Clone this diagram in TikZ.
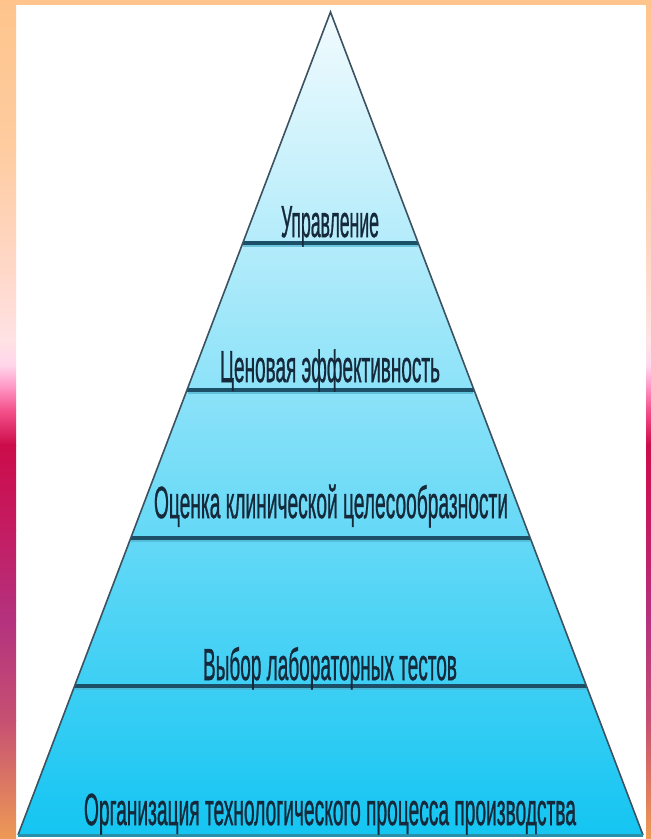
\documentclass[tikz,border=0pt]{standalone}
\usepackage{fontspec}
\setmainfont{Liberation Sans}
\newfontfamily\lblfont{Liberation Sans}[FakeBold=1.2]
\usepackage{graphicx}
\usetikzlibrary{calc}
\definecolor{s0}{HTML}{FEC48C}
\definecolor{s1}{HTML}{FECCA0}
\definecolor{s2}{HTML}{FFD9CC}
\definecolor{s3}{HTML}{FFE2E4}
\definecolor{s4}{HTML}{FFD6EA}
\definecolor{s5}{HTML}{FF9CC8}
\definecolor{s6}{HTML}{F4528C}
\definecolor{s7}{HTML}{CC0C4A}
\definecolor{s8}{HTML}{C41C62}
\definecolor{s9}{HTML}{B4327E}
\definecolor{s10}{HTML}{C65072}
\definecolor{s11}{HTML}{EE9A56}
\definecolor{ptop}{HTML}{F2FBFE}
\definecolor{pmid}{HTML}{86DEF7}
\definecolor{pbot}{HTML}{14C5F2}
\definecolor{txt}{HTML}{15293A}
\definecolor{divc}{HTML}{1B5068}
\definecolor{divs}{HTML}{4FB3D0}
\definecolor{edgec}{HTML}{3D5260}
\definecolor{basec}{HTML}{2A8FA8}
\tikzset{
  lbl/.style={anchor=base, inner sep=0pt, text=txt, font=\lblfont\fontsize{45}{50}\selectfont},
  divider/.style={draw=divc, line width=3.2pt},
  dividershadow/.style={draw=divs, line width=2pt, opacity=0.7},
  outline/.style={draw=edgec, line width=1.6pt, line join=miter},
}
\begin{document}
\begin{tikzpicture}[x=1pt,y=-1pt]
\useasboundingbox (0,0) rectangle (651,839);
\fill[white] (0,0) rectangle (651,839);
% frame strips (left and right share the vertical gradient)
\foreach \xa/\xb in {0/16, 646/651}{
  \shade[top color=s0, bottom color=s1] (\xa,0) rectangle (\xb,150);
  \shade[top color=s1, bottom color=s2] (\xa,150) rectangle (\xb,280);
  \shade[top color=s2, bottom color=s3] (\xa,280) rectangle (\xb,340);
  \shade[top color=s3, bottom color=s4] (\xa,340) rectangle (\xb,365);
  \shade[top color=s4, bottom color=s5] (\xa,365) rectangle (\xb,385);
  \shade[top color=s5, bottom color=s6] (\xa,385) rectangle (\xb,410);
  \shade[top color=s6, bottom color=s7] (\xa,410) rectangle (\xb,445);
  \shade[top color=s7, bottom color=s8] (\xa,445) rectangle (\xb,530);
  \shade[top color=s8, bottom color=s9] (\xa,530) rectangle (\xb,620);
  \shade[top color=s9, bottom color=s10] (\xa,620) rectangle (\xb,720);
  \shade[top color=s10, bottom color=s11] (\xa,720) rectangle (\xb,839);
}
\fill[s0] (0,0) rectangle (651,5);
% pyramid
\coordinate (A) at (330.5,12);
\coordinate (BL) at (18,835);
\coordinate (BR) at (643,835);
\shade[top color=ptop, middle color=pmid, bottom color=pbot] (A) -- (BL) -- (BR) -- cycle;
\foreach \t [count=\i] in {0.2807,0.4593,0.6391,0.8190}{
  \coordinate (L\i) at ($(A)!\t!(BL)$);
  \coordinate (R\i) at ($(A)!\t!(BR)$);
  \draw[dividershadow] ($(L\i)+(0.6,3)$) -- ($(R\i)+(-0.6,3)$);
  \draw[divider] (L\i) -- (R\i);
}
\draw[outline] (BL) -- (A) -- (BR);
\draw[draw=basec, line width=3pt] (BL) -- (BR);
% labels
\node[lbl] (t1) at (330,237) {\resizebox{98pt}{\height}{Управление}};
\node[lbl] (t2) at (330,382) {\resizebox{220pt}{\height}{Ценовая эффективность}};
\node[lbl] (t3) at (331,518) {\resizebox{354pt}{\height}{Оценка клинической целесообразности}};
\node[lbl] (t4) at (330,680) {\resizebox{254pt}{\height}{Выбор лабораторных тестов}};
\node[lbl] (t5) at (330,825) {\resizebox{492pt}{\height}{Организация технологического процесса производства}};
\end{tikzpicture}
\end{document}
